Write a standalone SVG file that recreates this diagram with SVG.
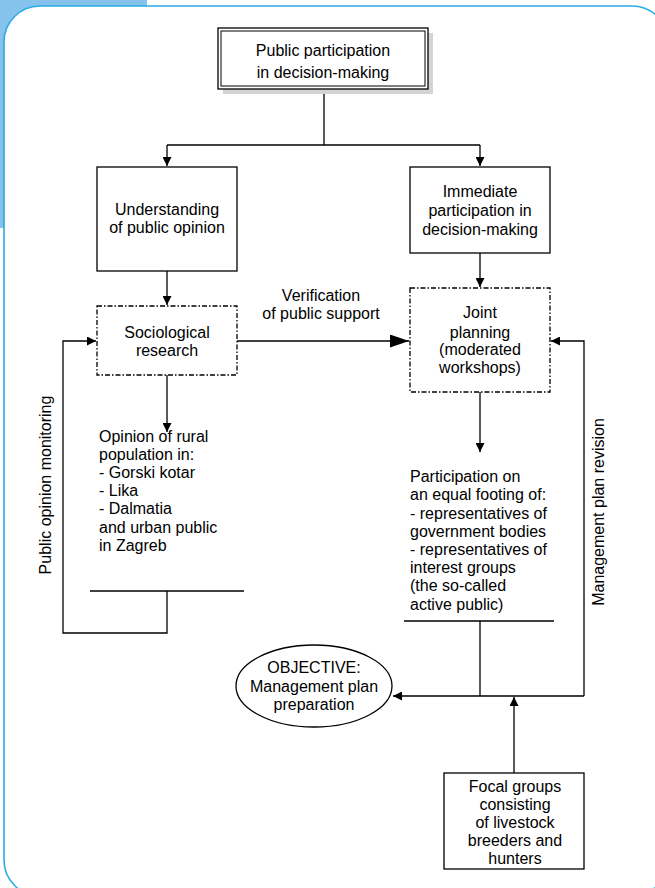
<svg xmlns="http://www.w3.org/2000/svg" width="655" height="888" viewBox="0 0 655 888">
<style>
text{font-family:"Liberation Sans",Arial,sans-serif;font-size:16px;fill:#000}
.c{text-anchor:middle}
.box{fill:#fff;stroke:#000;stroke-width:1.3}
.dd{fill:#fff;stroke:#000;stroke-width:1.3;stroke-dasharray:5 2 1.5 2}
.ln{fill:none;stroke:#000;stroke-width:1.3}
</style>
<defs>
<marker id="a" markerUnits="userSpaceOnUse" markerWidth="10" markerHeight="9" refX="9" refY="4.5" orient="auto"><path d="M0,0 L9,4.5 L0,9 z" fill="#000"/></marker>
<marker id="b" markerUnits="userSpaceOnUse" markerWidth="20" markerHeight="13" refX="19" refY="6.5" orient="auto"><path d="M0,0 L19,6.5 L0,13 z" fill="#000"/></marker>
</defs>
<g id="background">
<rect x="0" y="0" width="147" height="228" fill="#85c3ec"/>
<rect x="4" y="6" width="664" height="890" rx="36" ry="36" fill="#fff" stroke="#29abe2" stroke-width="1.6"/>
</g>
<g id="connectors">
<path class="ln" d="M324,90 V145"/>
<path class="ln" d="M167,145 H480"/>
<path class="ln" d="M167,145 V166" marker-end="url(#a)"/>
<path class="ln" d="M480,145 V166" marker-end="url(#a)"/>
<path class="ln" d="M167,271 V305" marker-end="url(#a)"/>
<path class="ln" d="M480,253 V287" marker-end="url(#a)"/>
<path class="ln" d="M237,341 H409" marker-end="url(#b)"/>
<path class="ln" d="M167,375 V432" marker-end="url(#a)"/>
<path class="ln" d="M480,392 V452" marker-end="url(#a)"/>
<path class="ln" d="M167,591 V633 H63 V341 H96" marker-end="url(#a)"/>
<path class="ln" d="M480,621 V696"/>
<path class="ln" d="M584,696 H393" marker-end="url(#a)"/>
<path class="ln" d="M584,696 V341 H551" marker-end="url(#a)"/>
<path class="ln" d="M514,773 V697" marker-end="url(#a)"/>
<path class="ln" d="M90,591 H244"/>
<path class="ln" d="M404,621 H554"/>
</g>
<g id="n-top">
<rect x="223" y="33" width="210" height="61" fill="#d4d4d6"/>
<rect class="box" x="218" y="28" width="210" height="61"/>
<rect x="221" y="31" width="204" height="55" fill="none" stroke="#000" stroke-width="1"/>
<text class="c" x="323" y="56">Public participation</text>
<text class="c" x="323" y="78">in decision-making</text>
</g>
<g id="n-understanding">
<rect class="box" x="97" y="167" width="140" height="104"/>
<text class="c" x="167" y="215">Understanding</text>
<text class="c" x="167" y="233">of public opinion</text>
</g>
<g id="n-immediate">
<rect class="box" x="410" y="167" width="140" height="86"/>
<text class="c" x="480" y="197">Immediate</text>
<text class="c" x="480" y="216">participation in</text>
<text class="c" x="480" y="235">decision-making</text>
</g>
<g id="n-sociological">
<rect class="dd" x="97" y="306" width="140" height="69"/>
<text class="c" x="167" y="338">Sociological</text>
<text class="c" x="167" y="356">research</text>
</g>
<g id="n-joint">
<rect class="dd" x="410" y="288" width="140" height="104"/>
<text class="c" x="480" y="318">Joint</text>
<text class="c" x="480" y="338">planning</text>
<text class="c" x="480" y="355">(moderated</text>
<text class="c" x="480" y="373">workshops)</text>
</g>
<g id="l-verification">
<text class="c" x="321" y="301">Verification</text>
<text class="c" x="321" y="319">of public support</text>
</g>
<g id="n-opinion">
<text x="99" y="442">Opinion of rural</text>
<text x="99" y="460">population in:</text>
<text x="99" y="478">- Gorski kotar</text>
<text x="99" y="496">- Lika</text>
<text x="99" y="514">- Dalmatia</text>
<text x="99" y="533">and urban public</text>
<text x="99" y="551">in Zagreb</text>
</g>
<g id="n-participation">
<text x="410" y="482">Participation on</text>
<text x="410" y="500">an equal footing of:</text>
<text x="410" y="519">- representatives of</text>
<text x="410" y="537">government bodies</text>
<text x="410" y="555">- representatives of</text>
<text x="410" y="573">interest groups</text>
<text x="410" y="591">(the so-called</text>
<text x="410" y="610">active public)</text>
</g>
<g id="n-objective">
<ellipse cx="314" cy="686" rx="78" ry="41" fill="#fff" stroke="#000" stroke-width="1.3"/>
<text class="c" x="314" y="673">OBJECTIVE:</text>
<text class="c" x="314" y="692">Management plan</text>
<text class="c" x="314" y="710">preparation</text>
</g>
<g id="n-focal">
<rect class="box" x="444" y="773" width="140" height="96"/>
<text class="c" x="515" y="792">Focal groups</text>
<text class="c" x="515" y="810">consisting</text>
<text class="c" x="515" y="828">of livestock</text>
<text class="c" x="515" y="846">breeders and</text>
<text class="c" x="515" y="864">hunters</text>
</g>
<g id="l-monitoring">
<text class="c" transform="translate(51,485) rotate(-90)">Public opinion monitoring</text>
</g>
<g id="l-revision">
<text class="c" transform="translate(604,512) rotate(-90)">Management plan revision</text>
</g>
</svg>
